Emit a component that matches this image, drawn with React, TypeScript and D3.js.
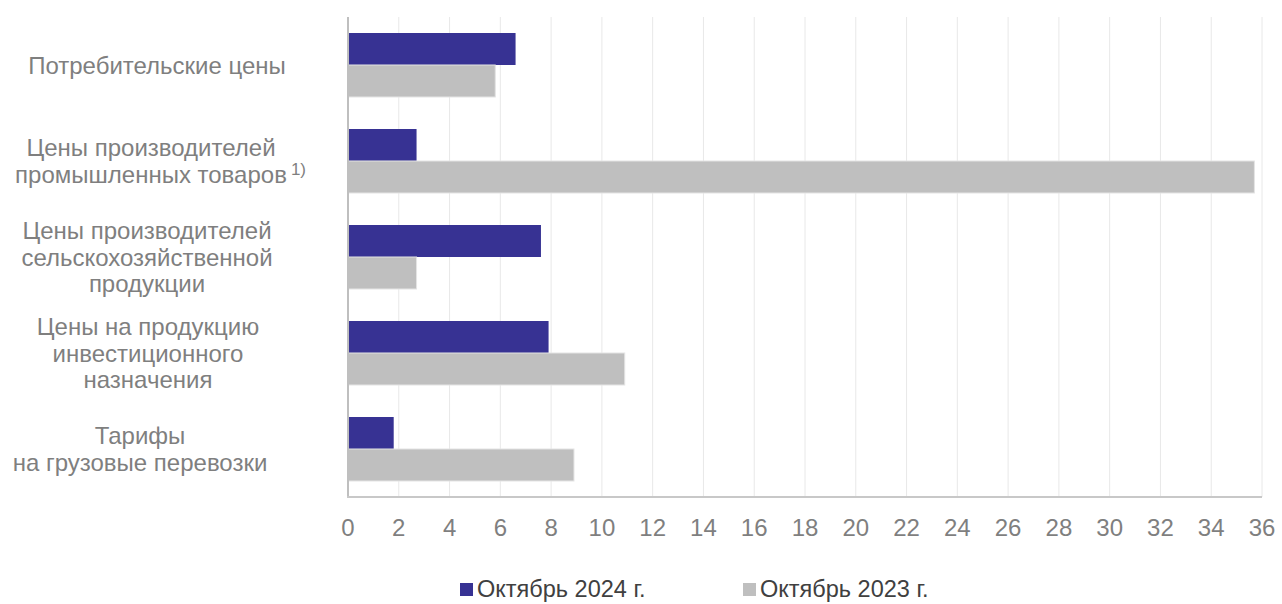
import React, { useEffect, useRef } from "react";
import * as d3 from "d3";

const categories = [
  "Потребительские цены",
  "Цены производителей\nпромышленных товаров",
  "Цены производителей\nсельскохозяйственной\nпродукции",
  "Цены на продукцию\nинвестиционного\nназначения",
  "Тарифы\nна грузовые перевозки",
];
const footnotes = ["", "1)", "", "", ""];
const oct2024 = [6.6, 2.7, 7.6, 7.9, 1.8];
const oct2023 = [5.8, 35.7, 2.7, 10.9, 8.9];
const seriesNames = ["Октябрь 2024 г.", "Октябрь 2023 г."];
const xTicks = d3.range(0, 37, 2);

const W = 1282;
const H = 604;
const FONT = "'Liberation Sans', Arial, sans-serif";
const COLORS = ["#373293", "#bfbfbf"];
const labelCenters = [157, 151, 147, 148, 140];

export default function App() {
  const ref = useRef<SVGSVGElement>(null);
  useEffect(() => {
    const svg = d3.select(ref.current);
    svg.selectAll("*").remove();
    const left = 348, right = 1262, top = 17, bottom = 497;
    const x = d3.scaleLinear().domain([0, 36]).range([left, right]);
    const y = d3.scaleBand<number>().domain(d3.range(categories.length)).range([top, bottom]).paddingInner(1 / 3).paddingOuter(1 / 6);

    // grid
    svg.append("g").selectAll("line").data(xTicks.filter((t) => t > 0)).join("line")
      .attr("x1", (d) => x(d)).attr("x2", (d) => x(d))
      .attr("y1", top).attr("y2", bottom)
      .attr("stroke", "#e8e8e8").attr("stroke-width", 1);

    // bars
    const series = [oct2024, oct2023];
    series.forEach((vals, si) => {
      svg.append("g").selectAll("rect").data(vals).join("rect")
        .attr("x", x(0))
        .attr("y", (_, i) => (y(i) as number) + si * y.bandwidth() / 2)
        .attr("width", (d) => x(d) - x(0))
        .attr("height", y.bandwidth() / 2)
        .attr("fill", COLORS[si])
        .attr("stroke", si === 1 ? "#e4e4e4" : "none")
        .attr("stroke-width", si === 1 ? 1 : 0);
    });

    // axes lines
    svg.append("line").attr("x1", left).attr("x2", left).attr("y1", top).attr("y2", bottom)
      .attr("stroke", "#bfbfbf").attr("stroke-width", 2);
    svg.append("line").attr("x1", left - 1).attr("x2", right).attr("y1", bottom).attr("y2", bottom)
      .attr("stroke", "#c8c8c8").attr("stroke-width", 2);

    // tick labels
    svg.append("g").selectAll("text").data(xTicks).join("text")
      .attr("x", (d) => x(d)).attr("y", 535.5)
      .attr("text-anchor", "middle")
      .attr("font-family", FONT).attr("font-size", 24).attr("fill", "#7f7f7f")
      .text((d) => String(d));

    // category labels
    const lh = 26.5;
    categories.forEach((c, i) => {
      const lines = c.split("\n");
      const cy = (y(i) as number) + y.bandwidth() / 2;
      const y0 = cy - ((lines.length - 1) * lh) / 2 + 8.5;
      lines.forEach((ln, li) => {
        const t = svg.append("text")
          .attr("x", labelCenters[i]).attr("y", y0 + li * lh)
          .attr("text-anchor", "middle")
          .attr("font-family", FONT).attr("font-size", 24).attr("fill", "#7f7f7f")
          .text(ln);
        if (li === lines.length - 1 && footnotes[i]) {
          const len = (t.node() as SVGTextElement).getComputedTextLength();
          svg.append("text")
            .attr("x", labelCenters[i] + len / 2 + 4).attr("y", y0 + li * lh - 8)
            .attr("font-family", FONT).attr("font-size", 17).attr("fill", "#7f7f7f")
            .text(footnotes[i]);
        }
      });
    });

    // legend
    const legendX = [460, 743];
    seriesNames.forEach((n, i) => {
      svg.append("rect").attr("x", legendX[i]).attr("y", 583).attr("width", 13).attr("height", 13).attr("fill", COLORS[i]);
      svg.append("text").attr("x", legendX[i] + 17).attr("y", 597)
        .attr("font-family", FONT).attr("font-size", 23.5).attr("fill", "#404040")
        .text(n);
    });
  }, []);
  return (
    <svg ref={ref} width={W} height={H} style={{ position: "absolute", left: 0, top: 0, background: "#fff" }} />
  );
}
